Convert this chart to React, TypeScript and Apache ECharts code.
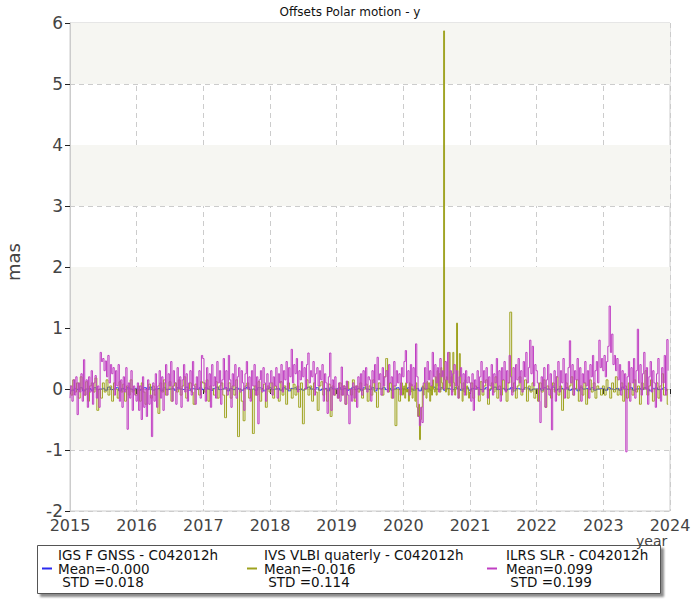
import React, { useEffect, useRef } from "react";
import * as echarts from "echarts";

const FONT = "DejaVu Sans";
const TITLE = "Offsets Polar motion - y";
const X_MIN = 2015;
const X_MAX = 2024;
const Y_MIN = -2;
const Y_MAX = 6;
const X_NAME = "year";
const Y_NAME = "mas";

const SERIES_NAMES = ["IGS F GNSS - C042012h", "IVS VLBI quaterly - C042012h", "ILRS SLR - C042012h"];
const MEANS = ["-0.000", "-0.016", "0.099"];
const STDS = ["0.018", "0.114", "0.199"];
const COLORS = ["#2b2bef", "#9ea21f", "#c03fc3"];
const BANDS = [[-1, 2], [3, 4], [5, 6]];

// ILRS SLR, weekly values (52 per year)
const slr2015 = [
  -0.15, 0.05, -0.2, 0.15, -0.1, 0.2, -0.42, 0.1, -0.05, 0.25, -0.2, 0.48, -0.1,
  0.15, -0.3, 0.2, -0.05, 0.3, -0.25, 0.1, 0.22, -0.15, 0.05, -0.3, 0.6, 0.45,
  0.5, 0.3, 0.46, 0.2, 0.55, 0.1, 0.4, 0.25, 0.35, -0.1, 0.3, 0.05, 0.4,
  -0.2, 0.15, -0.3, 0.2, -0.05, 0.35, -0.66, 0.1, -0.15, 0.3, -0.35, 0.05, -0.1,
];
const slr2016 = [
  -0.2, 0.1, -0.35, 0.05, -0.5, 0.2, -0.3, 0.0, -0.45, 0.15, -0.25, -0.1, -0.78,
  0.1, -0.2, 0.25, -0.3, 0.05, 0.3, -0.15, 0.2, -0.35, 0.1, 0.4, -0.1, 0.25,
  0.05, 0.45, -0.2, 0.3, 0.1, -0.25, 0.35, 0.0, 0.2, -0.3, 0.15, 0.4, -0.05,
  0.25, -0.2, 0.1, 0.3, -0.1, 0.45, 0.05, -0.25, 0.2, 0.0, 0.3, -0.15, 0.55,
];
const slr2017 = [
  0.5, 0.1, -0.2, 0.35, 0.0, 0.25, -0.3, 0.4, 0.05, 0.2, -0.15, 0.45, 0.1,
  0.3, -0.25, 0.15, 0.5, 0.0, 0.3, -0.1, 0.55, 0.15, -0.3, 0.25, 0.05, 0.4,
  -0.15, 0.2, 0.35, -0.05, 0.3, 0.1, -0.35, 0.25, 0.45, 0.0, 0.2, -0.2, 0.3,
  0.05, 0.4, -0.1, 0.2, -0.57, 0.15, 0.3, -0.05, 0.35, 0.1, -0.2, 0.25, 0.0,
];
const slr2018 = [
  0.1, 0.3, -0.1, 0.2, 0.05, 0.35, -0.15, 0.25, 0.1, 0.4, -0.05, 0.3, 0.15,
  0.45, 0.0, 0.35, 0.2, 0.65, 0.1, 0.4, 0.25, 0.5, -0.05, 0.3, 0.15, 0.45,
  0.2, 0.35, 0.0, 0.4, 0.59, 0.1, 0.3, 0.2, 0.45, -0.1, 0.25, 0.35, 0.05,
  0.3, 0.15, 0.4, -0.2, 0.25, 0.1, -0.4, 0.2, 0.59, -0.35, 0.15, -0.1, 0.2,
];
const slr2019 = [
  0.0, -0.15, 0.1, -0.2, 0.36, -0.1, 0.05, -0.25, 0.13, -0.1, -0.57, 0.0, -0.2,
  0.1, -0.15, 0.05, -0.3, 0.2, 0.0, 0.25, -0.1, 0.3, 0.05, 0.35, -0.05, 0.2,
  0.15, -0.2, 0.3, 0.1, 0.4, 0.0, 0.52, 0.15, 0.25, -0.1, 0.35, 0.05, 0.2,
  0.3, -0.05, 0.4, 0.1, 0.2, -0.15, 0.45, 0.05, 0.3, 0.1, 0.25, -0.1, 0.35,
];
const slr2020 = [
  0.2, 0.45, 0.63, 0.1, 0.3, -0.1, 0.4, 0.05, 0.35, 0.0, 0.74, 0.2, -0.45,
  -0.6, -0.3, -0.55, 0.1, 0.35, 0.0, 0.45, 0.15, 0.3, 0.05, 0.6, 0.2, 0.4,
  0.1, 0.35, -0.05, 0.5, 0.2, 0.3, 0.0, 0.45, 0.15, 0.6, 0.1, 0.3, -0.1,
  0.25, 0.4, 0.05, 0.3, -0.15, 0.2, 0.35, 0.0, 0.25, -0.1, 0.3, 0.1, 0.2,
];
const slr2021 = [
  0.1, -0.2, 0.25, -0.35, 0.15, 0.0, 0.3, -0.1, 0.2, 0.45, -0.05, 0.3, 0.1,
  0.35, -0.15, 0.2, 0.05, 0.4, -0.1, 0.25, 0.1, 0.5, 0.0, 0.3, -0.2, 0.35,
  0.15, 0.45, -0.05, 0.3, 0.1, 0.55, 0.2, -0.1, 0.35, 0.0, 0.4, 0.15, 0.5,
  0.1, 0.3, -0.05, 0.45, 0.2, 0.6, 0.1, 0.35, 0.8, 0.25, 0.7, 0.05, 0.4,
];
const slr2022 = [
  0.3, 0.1, -0.2, -0.55, 0.2, 0.0, 0.35, -0.3, 0.15, 0.4, -0.1, 0.25, -0.67,
  0.05, 0.3, -0.2, 0.2, 0.45, -0.05, 0.3, 0.1, 0.5, -0.15, 0.25, 0.0, 0.35,
  0.79, 0.1, 0.4, -0.1, 0.3, 0.15, 0.5, 0.0, 0.35, -0.2, 0.25, 0.1, 0.45,
  0.05, 0.3, -0.15, 0.4, 0.2, 0.55, 0.0, 0.3, 0.45, 0.1, 0.8, 0.35, 0.5,
];
const slr2023 = [
  0.3, 0.55, 0.2, 0.45, 0.7, 1.36, 0.6, 0.9, 0.4, 0.55, 0.3, 0.5, 0.15,
  0.4, -0.1, 0.3, 0.0, 0.25, -1.03, 0.2, 0.45, -0.2, 0.35, 0.1, 0.5, -0.15,
  0.3, 0.98, 0.1, 0.4, -0.1, 0.25, 0.6, 0.0, 0.35, -0.25, 0.2, 0.45, -0.05,
  0.3, 0.1, -0.3, 0.25, 0.5, 0.0, -0.2, 0.35, 0.1, 0.55, -0.1, 0.81, 0.3,
];

// IVS VLBI, values every ~10 days (36 per year; 72 in 2020)
const vlbi2015 = [
  0.05, -0.1, 0.15, -0.05, 0.1, -0.15, 0.2, 0.0, -0.1, 0.12, -0.2, 0.05,
  0.1, -0.05, 0.18, -0.35, 0.0, -0.15, 0.1, -0.05, 0.15, -0.1, 0.05, -0.2,
  0.1, 0.0, -0.15, 0.12, -0.05, 0.08, -0.2, 0.05, -0.1, 0.15, -0.05, 0.0,
];
const vlbi2016 = [
  -0.1, 0.05, -0.2, 0.1, -0.05, -0.25, 0.0, 0.08, -0.15, 0.05, -0.1, 0.0,
  -0.4, 0.1, -0.05, 0.15, -0.1, 0.0, 0.12, -0.2, 0.05, 0.1, -0.05, 0.15,
  -0.1, 0.05, 0.2, -0.15, 0.0, 0.1, -0.05, -0.25, 0.08, 0.0, -0.1, 0.12,
];
const vlbi2017 = [
  0.1, -0.05, 0.15, -0.2, 0.05, 0.0, -0.1, 0.12, -0.15, 0.05, 0.1, -0.1,
  -0.47, 0.0, 0.1, -0.15, 0.05, -0.1, 0.15, -0.78, 0.0, -0.2, -0.52, 0.05,
  0.1, -0.15, 0.0, -0.73, 0.05, -0.1, 0.12, -0.2, 0.0, 0.08, -0.3, 0.05,
];
const vlbi2018 = [
  -0.05, 0.1, -0.15, 0.05, 0.0, -0.2, 0.12, -0.1, 0.05, -0.25, 0.1, 0.0,
  -0.15, 0.08, -0.1, 0.05, -0.3, 0.1, -0.57, 0.0, 0.15, -0.1, 0.05, -0.2,
  0.1, -0.05, -0.35, 0.05, 0.12, -0.1, 0.0, -0.2, 0.08, -0.45, 0.05, -0.1,
];
const vlbi2019 = [
  0.0, -0.15, 0.1, -0.1, 0.05, -0.25, 0.12, 0.0, -0.1, 0.15, -0.2, 0.05,
  -0.05, 0.1, -0.15, 0.0, 0.08, -0.2, 0.05, -0.1, 0.15, -0.05, -0.3, 0.1,
  0.0, -0.1, 0.2, 0.5, -0.05, 0.1, -0.15, 0.05, -0.6, 0.0, -0.2, 0.1,
];
const vlbi2020 = [
  -0.1, 0.05, -0.15, 0.1, -0.05, 0.0, -0.2, 0.1, -0.05, 0.08, -0.15, 0.0,
  0.05, -0.2, 0.1, -0.3, -0.45, -0.25, -0.83, -0.5, -0.3, 0.05, -0.1, 0.1,
  0.0, -0.15, 0.12, -0.05, 0.1, -0.2, 0.05, -0.1, 0.15, 0.0, -0.05, 0.2,
  -0.1, 0.3, 0.05, 0.25, -0.05, 0.35, 0.1, 0.0, 5.87, 0.15, -0.05, 0.2,
  0.0, -0.1, 0.6, 0.05, 0.2, -0.05, 0.6, 0.1, -0.1, 0.0, 1.08, 0.05,
  -0.15, 0.58, 0.1, 0.0, -0.2, 0.1, -0.05, 0.15, -0.1, 0.05, 0.0, -0.15,
];
const vlbi2021 = [
  -0.05, 0.1, -0.15, 0.05, 0.0, -0.2, 0.12, -0.1, 0.05, 0.15, -0.25, 0.0,
  0.1, -0.05, 0.2, -0.15, 0.05, -0.1, 0.15, 0.0, -0.2, 0.1, 1.26, -0.05,
  0.1, -0.15, 0.05, 0.2, -0.1, 0.0, 0.15, -0.2, 0.05, -0.05, 0.1, -0.15,
];
const vlbi2022 = [
  0.0, -0.2, 0.1, -0.05, 0.15, -0.3, 0.05, 0.0, -0.15, 0.1, -0.05, 0.2,
  -0.1, 0.05, -0.35, 0.0, 0.1, -0.15, 0.05, 0.2, -0.1, 0.0, 0.15, -0.2,
  0.05, -0.1, 0.1, -0.25, 0.0, 0.15, -0.05, 0.1, -0.15, 0.05, 0.0, -0.1,
];
const vlbi2023 = [
  0.05, -0.1, 0.15, 0.0, -0.15, 0.1, -0.05, 0.2, -0.1, 0.0, 0.1, -0.2,
  0.05, -0.15, 0.1, 0.0, -0.1, 0.15, -0.05, 0.05, -0.25, 0.1, 0.0, 0.3,
  -0.1, 0.05, 0.15, -0.2, 0.0, 0.1, -0.15, 0.05, 0.25, -0.1, 0.0, -0.25,
];

// IGS GNSS, semi-monthly values (24 per year)
const gnss2015 = [-0.03, -0.02, 0.01, -0.01, 0.02, -0.03, 0.0, 0.01, -0.02, 0.02, -0.01, 0.0, 0.01, -0.02, 0.03, -0.01, 0.0, 0.02, -0.03, 0.01, -0.01, 0.02, 0.0, -0.02];
const gnss2016 = [0.01, -0.02, 0.0, 0.02, -0.01, 0.03, -0.02, 0.0, 0.01, -0.03, 0.02, -0.01, 0.0, 0.01, -0.02, 0.02, 0.0, -0.01, 0.03, -0.02, 0.01, 0.0, -0.01, 0.02];
const gnss2017 = [-0.01, 0.02, 0.0, -0.02, 0.01, 0.03, -0.01, 0.0, 0.02, -0.03, 0.01, -0.01, 0.02, 0.0, -0.02, 0.01, 0.03, -0.01, 0.0, -0.02, 0.02, 0.01, -0.03, 0.0];
const gnss2018 = [0.02, -0.01, 0.0, 0.01, -0.02, 0.02, 0.0, -0.03, 0.01, 0.02, -0.01, 0.0, -0.02, 0.01, 0.03, 0.0, -0.01, 0.02, -0.02, 0.0, 0.01, -0.03, 0.02, 0.0];
const gnss2019 = [0.0, 0.02, -0.01, 0.01, -0.02, 0.0, 0.03, -0.01, 0.01, -0.02, 0.02, 0.0, -0.01, 0.02, -0.03, 0.01, 0.0, 0.02, -0.01, 0.01, -0.02, 0.0, 0.02, -0.01];
const gnss2020 = [0.01, -0.01, 0.02, 0.0, -0.02, 0.01, -0.03, 0.02, 0.0, 0.01, -0.02, 0.03, 0.0, -0.01, 0.02, -0.02, 0.01, 0.0, -0.01, 0.02, 0.0, -0.02, 0.01, 0.02];
const gnss2021 = [-0.02, 0.01, 0.0, 0.02, -0.01, 0.0, 0.02, -0.02, 0.01, 0.03, -0.01, 0.0, 0.01, -0.02, 0.0, 0.02, -0.03, 0.01, 0.0, -0.01, 0.02, 0.01, -0.02, 0.0];
const gnss2022 = [0.0, 0.01, -0.02, 0.02, 0.0, -0.01, 0.03, -0.02, 0.0, 0.01, -0.01, 0.02, -0.02, 0.0, 0.01, -0.03, 0.02, 0.0, 0.01, -0.01, 0.02, -0.02, 0.0, 0.01];
const gnss2023 = [0.01, -0.02, 0.02, 0.0, -0.01, 0.01, -0.02, 0.03, 0.0, -0.01, 0.02, -0.02, 0.0, 0.01, -0.01, 0.02, 0.0, -0.03, 0.01, 0.02, -0.01, 0.0, 0.02, -0.02];

const GNSS_YEARS = [gnss2015, gnss2016, gnss2017, gnss2018, gnss2019, gnss2020, gnss2021, gnss2022, gnss2023];
const VLBI_YEARS = [vlbi2015, vlbi2016, vlbi2017, vlbi2018, vlbi2019, vlbi2020, vlbi2021, vlbi2022, vlbi2023];
const SLR_YEARS = [slr2015, slr2016, slr2017, slr2018, slr2019, slr2020, slr2021, slr2022, slr2023];

// legend box layout (pixels)
const LEG_BOX = { x: 37.5, y: 545.5, w: 623, h: 48 };
const LEG_ICON_X = [42, 247, 487];
const LEG_TEXT_X = [58, 264, 506];
const LEG_LINE_Y = [555, 568.5, 582];

function toPoints(years: number[][]) {
  const pts: number[][] = [];
  years.forEach((vals, k) => {
    const n = vals.length;
    vals.forEach((v, i) => pts.push([X_MIN + k + i / n, v]));
  });
  return pts;
}

export default function App() {
  const ref = useRef<HTMLDivElement>(null);
  useEffect(() => {
    if (!ref.current) return;
    const chart = echarts.init(ref.current, undefined, { renderer: "svg" });
    const datasets = [toPoints(GNSS_YEARS), toPoints(VLBI_YEARS), toPoints(SLR_YEARS)];
    const series: any[] = datasets.map((d, i) => ({
      name: SERIES_NAMES[i],
      type: "line",
      data: d,
      step: "middle",
      showSymbol: false,
      symbol: "none",
      color: COLORS[i],
      lineStyle: { width: 1, color: COLORS[i] },
      z: 3,
    }));
    series[0].markArea = {
      silent: true,
      z: 0,
      itemStyle: { color: "#f6f6f2" },
      data: BANDS.map(([a, b]) => [{ yAxis: a }, { yAxis: b }]),
    };

    const legendChildren: any[] = [
      {
        type: "rect",
        shape: { x: LEG_BOX.x, y: LEG_BOX.y, width: LEG_BOX.w, height: LEG_BOX.h },
        style: {
          fill: "#ffffff",
          stroke: "#555",
          lineWidth: 1,
          shadowBlur: 2,
          shadowOffsetX: 3,
          shadowOffsetY: 3,
          shadowColor: "rgba(0,0,0,0.45)",
        },
      },
    ];
    SERIES_NAMES.forEach((name, i) => {
      legendChildren.push({
        type: "rect",
        shape: { x: LEG_ICON_X[i], y: 567.5, width: 10, height: 2 },
        style: { fill: COLORS[i] },
      });
      const lines = [name, `Mean=${MEANS[i]}`, ` STD =${STDS[i]}`];
      lines.forEach((t, j) => {
        legendChildren.push({
          type: "text",
          x: LEG_TEXT_X[i],
          y: LEG_LINE_Y[j],
          style: {
            text: t,
            fontFamily: FONT,
            fontSize: 13.5,
            fill: "#111",
            align: "left",
            verticalAlign: "middle",
          },
        });
      });
    });

    chart.setOption({
      animation: false,
      backgroundColor: "#ffffff",
      textStyle: { fontFamily: FONT },
      title: {
        text: TITLE,
        left: "center",
        top: 1,
        textStyle: { fontFamily: FONT, fontSize: 12, fontWeight: "normal", color: "#111" },
      },
      grid: {
        left: 70,
        right: 30,
        top: 23,
        bottom: 89,
        show: true,
        borderColor: "#cccccc",
        borderWidth: 1,
        backgroundColor: "transparent",
      },
      xAxis: {
        type: "value",
        min: X_MIN,
        max: X_MAX,
        interval: 1,
        axisLine: { show: true, lineStyle: { color: "#cccccc" } },
        axisTick: { show: true, length: 5, lineStyle: { color: "#222" } },
        axisLabel: {
          color: "#444",
          fontSize: 16,
          fontFamily: FONT,
          margin: 6,
          formatter: (v: number) => String(v),
        },
        splitLine: { show: true, lineStyle: { color: "#cccccc", type: [5, 4] } },
      },
      yAxis: {
        type: "value",
        min: Y_MIN,
        max: Y_MAX,
        interval: 1,
        axisLine: { show: true, lineStyle: { color: "#cccccc" } },
        axisTick: { show: true, length: 5, lineStyle: { color: "#222" } },
        axisLabel: { color: "#444", fontSize: 17, fontFamily: FONT, margin: 7 },
        splitLine: { show: true, lineStyle: { color: "#cccccc", type: [5, 4] } },
      },
      graphic: [
        {
          type: "text",
          x: 636,
          y: 541,
          z: 1,
          style: { text: X_NAME, fontFamily: FONT, fontSize: 14, fill: "#444", verticalAlign: "middle" },
        },
        {
          type: "text",
          x: 13,
          y: 262,
          rotation: Math.PI / 2,
          style: { text: Y_NAME, fontFamily: FONT, fontSize: 18, fill: "#444", align: "center", verticalAlign: "middle" },
        },
        { type: "group", z: 10, children: legendChildren },
      ],
      series,
    });
    return () => chart.dispose();
  }, []);
  return (
    <div
      ref={ref}
      style={{ position: "absolute", left: 0, top: 0, width: 700, height: 600 }}
    />
  );
}
